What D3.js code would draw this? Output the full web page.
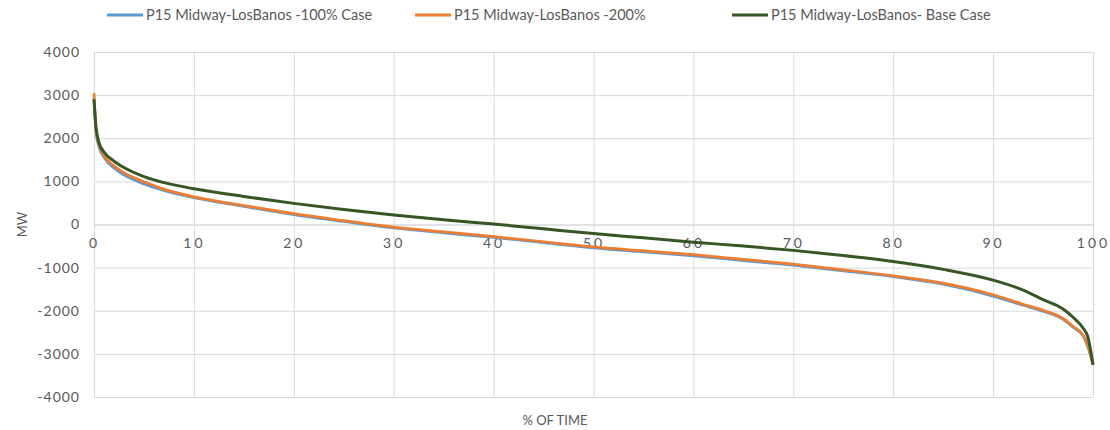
<!DOCTYPE html>
<html><head><meta charset="utf-8">
<script src="https://cdn.jsdelivr.net/npm/d3@7"></script>
<style>
body{margin:0;background:#fff;}
svg{display:block;font-family:Lato,"Open Sans",sans-serif;}
</style></head><body>
<svg id="c" width="1110" height="430"></svg>
<script>
const xPct = [0, 0.2, 0.5, 1, 2, 3, 5, 7, 10, 15, 20, 25, 30, 35, 40, 45, 50, 55, 60, 65, 70, 75, 80, 85, 90, 93, 95, 97, 98, 99, 99.5, 100];
const case100 = [2950, 2150, 1800, 1560, 1310, 1150, 940, 790, 620, 420, 230, 70, -80, -195, -300, -420, -545, -635, -725, -835, -945, -1075, -1210, -1385, -1660, -1870, -2010, -2200, -2380, -2580, -2850, -3240];
const case200 = [3050, 2200, 1850, 1600, 1360, 1200, 990, 820, 640, 440, 250, 90, -60, -170, -280, -400, -520, -610, -700, -810, -920, -1050, -1190, -1360, -1630, -1850, -1990, -2180, -2360, -2560, -2830, -3240];
const baseCase = [2900, 2250, 1900, 1680, 1470, 1320, 1110, 970, 830, 650, 490, 350, 220, 110, 10, -100, -210, -310, -410, -500, -600, -720, -860, -1040, -1290, -1520, -1740, -1960, -2150, -2400, -2620, -3260];
const seriesNames = ["P15 Midway-LosBanos -100% Case", "P15 Midway-LosBanos -200%", "P15 Midway-LosBanos- Base Case"];
const seriesColors = ["#5B9BD5", "#ED7D31", "#375623"];
const xTicks = [0, 10, 20, 30, 40, 50, 60, 70, 80, 90, 100];
const yTicks = [-4000, -3000, -2000, -1000, 0, 1000, 2000, 3000, 4000];
const yTitle = "MW";
const xTitle = "% OF TIME";

const svg = d3.select("#c");
const x = d3.scaleLinear().domain([0, 100]).range([94, 1093]);
const y = d3.scaleLinear().domain([-4000, 4000]).range([397, 52]);
const grid = "#d9d9d9", txt = "#595959";
const fmt = d => String(d);

// horizontal gridlines + y labels
const ya = svg.append("g").attr("transform", "translate(94,0)")
  .call(d3.axisLeft(y).tickValues(yTicks).tickSize(-(1093 - 94)).tickPadding(14).tickFormat(fmt));
ya.select(".domain").remove();
ya.selectAll("line").attr("stroke", grid).attr("stroke-width", 1);
ya.selectAll("text").attr("fill", txt).attr("font-size", 14).attr("letter-spacing", "1px").attr("font-family", "Lato, sans-serif");

// vertical gridlines
const xg = svg.append("g").attr("transform", "translate(0,397)")
  .call(d3.axisBottom(x).tickValues(xTicks).tickSize(-(397 - 52)).tickFormat(""));
xg.select(".domain").remove();
xg.selectAll("line").attr("stroke", grid).attr("stroke-width", 1);

// x labels at y=0
const xl = svg.append("g").attr("transform", `translate(0,${y(0)})`)
  .call(d3.axisBottom(x).tickValues(xTicks).tickSize(0).tickPadding(14).tickFormat(fmt));
xl.select(".domain").attr("stroke", grid);
xl.selectAll("text").attr("fill", txt).attr("font-size", 14).attr("letter-spacing", "3px").attr("font-family", "Lato, sans-serif");

// lines
const data = [case100, case200, baseCase];
const line = d3.line().x((d, i) => x(xPct[i])).y(d => y(d)).curve(d3.curveMonotoneX);
data.forEach((s, k) => {
  svg.append("path").datum(s).attr("d", line).attr("fill", "none")
    .attr("stroke", seriesColors[k]).attr("stroke-width", k === 2 ? 3 : 2.75)
    .attr("stroke-linejoin", "round");
});

// titles
svg.append("text").attr("transform", `translate(27,${y(0)}) rotate(-90)`).attr("text-anchor", "middle")
  .attr("fill", txt).attr("font-size", 13).text(yTitle);
svg.append("text").attr("x", 555).attr("y", 425).attr("text-anchor", "middle")
  .attr("fill", txt).attr("font-size", 13).text(xTitle);

// legend
const legX = [107, 415, 732];
seriesNames.forEach((n, k) => {
  svg.append("line").attr("x1", legX[k]).attr("x2", legX[k] + 36).attr("y1", 15).attr("y2", 15)
    .attr("stroke", seriesColors[k]).attr("stroke-width", 3);
  svg.append("text").attr("x", legX[k] + 39).attr("y", 15).attr("dy", "0.35em")
    .attr("fill", txt).attr("font-size", 14.5).text(n);
});
</script>
</body></html>
